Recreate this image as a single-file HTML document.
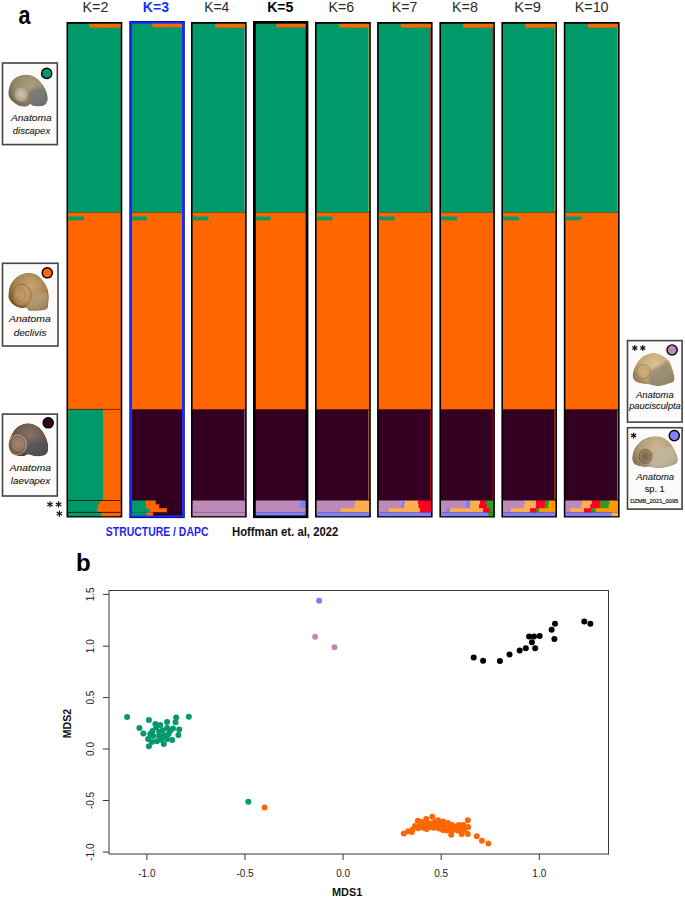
<!DOCTYPE html>
<html><head><meta charset="utf-8"><style>
html,body{margin:0;padding:0;background:#fff;}
body{width:685px;height:898px;overflow:hidden;}
svg{display:block;font-family:"Liberation Sans",sans-serif;}
</style></head><body>
<svg width="685" height="898" viewBox="0 0 685 898">
<rect width="685" height="898" fill="#fff"/>
<rect x="66.50" y="22.00" width="55.80" height="495.50" fill="#000"/>
<rect x="68.10" y="23.80" width="52.60" height="189.60" fill="#009a6a"/>
<rect x="89.20" y="23.80" width="31.50" height="3.80" fill="#ff6600"/>
<rect x="68.10" y="212.40" width="52.60" height="197.90" fill="#ff6600"/>
<rect x="68.10" y="216.60" width="15.90" height="3.70" fill="#009a6a"/>
<rect x="68.10" y="212.00" width="52.60" height="0.80" fill="#000" opacity="0.35"/>
<rect x="68.10" y="409.30" width="52.60" height="92.20" fill="#ff6600"/>
<rect x="68.10" y="409.30" width="34.90" height="92.20" fill="#009a6a"/>
<rect x="68.10" y="408.90" width="52.60" height="0.90" fill="#000" opacity="0.6"/>
<rect x="68.10" y="500.50" width="32.80" height="4.80" fill="#009a6a"/>
<rect x="99.90" y="500.50" width="20.80" height="4.80" fill="#ff6600"/>
<rect x="68.10" y="504.30" width="31.00" height="4.90" fill="#009a6a"/>
<rect x="98.10" y="504.30" width="22.60" height="4.90" fill="#ff6600"/>
<rect x="68.10" y="508.20" width="30.20" height="5.10" fill="#009a6a"/>
<rect x="97.30" y="508.20" width="23.40" height="5.10" fill="#ff6600"/>
<rect x="68.10" y="512.30" width="34.10" height="3.90" fill="#009a6a"/>
<rect x="101.20" y="512.30" width="19.50" height="3.90" fill="#ff6600"/>
<rect x="68.10" y="500.15" width="52.60" height="0.80" fill="#000" opacity="0.85"/>
<rect x="68.10" y="511.90" width="52.60" height="0.90" fill="#000" opacity="0.85"/>
<rect x="129.30" y="21.00" width="55.50" height="497.10" fill="#0a0a8c"/>
<rect x="130.20" y="21.90" width="53.70" height="495.30" fill="#1530ff"/>
<rect x="132.10" y="23.80" width="49.90" height="189.60" fill="#009a6a"/>
<rect x="152.40" y="23.80" width="29.60" height="3.50" fill="#ff6600"/>
<rect x="132.10" y="212.40" width="49.90" height="197.90" fill="#ff6600"/>
<rect x="132.10" y="216.60" width="14.70" height="3.70" fill="#009a6a"/>
<rect x="132.10" y="212.00" width="49.90" height="0.80" fill="#000" opacity="0.35"/>
<rect x="132.10" y="409.30" width="49.90" height="92.20" fill="#330022"/>
<rect x="132.10" y="500.50" width="14.90" height="4.80" fill="#009a6a"/>
<rect x="146.00" y="500.50" width="10.70" height="4.80" fill="#ff6600"/>
<rect x="155.70" y="500.50" width="26.30" height="4.80" fill="#330022"/>
<rect x="132.10" y="504.30" width="14.90" height="4.90" fill="#009a6a"/>
<rect x="146.00" y="504.30" width="14.20" height="4.90" fill="#ff6600"/>
<rect x="159.20" y="504.30" width="22.80" height="4.90" fill="#330022"/>
<rect x="132.10" y="508.20" width="18.20" height="5.10" fill="#009a6a"/>
<rect x="149.30" y="508.20" width="18.60" height="5.10" fill="#ff6600"/>
<rect x="166.90" y="508.20" width="15.10" height="5.10" fill="#330022"/>
<rect x="132.10" y="512.30" width="15.40" height="3.20" fill="#009a6a"/>
<rect x="146.50" y="512.30" width="7.60" height="3.20" fill="#ff6600"/>
<rect x="153.10" y="512.30" width="28.90" height="3.20" fill="#330022"/>
<rect x="132.10" y="511.90" width="49.90" height="0.80" fill="#000" opacity="0.3"/>
<rect x="191.00" y="22.00" width="55.70" height="495.50" fill="#000"/>
<rect x="192.60" y="23.80" width="52.50" height="189.60" fill="#009a6a"/>
<rect x="215.00" y="23.80" width="30.10" height="3.80" fill="#ff6600"/>
<rect x="192.60" y="212.40" width="52.50" height="197.90" fill="#ff6600"/>
<rect x="192.60" y="216.60" width="15.90" height="3.70" fill="#009a6a"/>
<rect x="192.60" y="212.00" width="52.50" height="0.80" fill="#000" opacity="0.35"/>
<rect x="192.60" y="409.30" width="52.50" height="92.20" fill="#330022"/>
<rect x="244.30" y="27.80" width="0.80" height="183.60" fill="#bd8bb7" opacity="0.8"/>
<rect x="244.30" y="410.30" width="0.80" height="89.20" fill="#bd8bb7" opacity="0.8"/>
<rect x="192.60" y="500.50" width="52.50" height="4.80" fill="#bd8bb7"/>
<rect x="192.60" y="504.30" width="52.50" height="4.90" fill="#bd8bb7"/>
<rect x="192.60" y="508.20" width="52.50" height="5.10" fill="#bd8bb7"/>
<rect x="192.60" y="512.30" width="52.50" height="3.90" fill="#bd8bb7"/>
<rect x="192.60" y="511.90" width="52.50" height="0.80" fill="#000" opacity="0.3"/>
<rect x="253.00" y="21.00" width="55.40" height="497.10" fill="#000"/>
<rect x="255.80" y="23.80" width="49.80" height="189.60" fill="#009a6a"/>
<rect x="276.40" y="23.80" width="29.20" height="3.50" fill="#ff6600"/>
<rect x="255.80" y="212.40" width="49.80" height="197.90" fill="#ff6600"/>
<rect x="255.80" y="216.60" width="14.70" height="3.70" fill="#009a6a"/>
<rect x="255.80" y="212.00" width="49.80" height="0.80" fill="#000" opacity="0.35"/>
<rect x="255.80" y="409.30" width="49.80" height="92.20" fill="#330022"/>
<rect x="255.80" y="500.50" width="45.30" height="4.80" fill="#bd8bb7"/>
<rect x="300.10" y="500.50" width="5.50" height="4.80" fill="#8080ff"/>
<rect x="255.80" y="504.30" width="45.30" height="4.90" fill="#bd8bb7"/>
<rect x="300.10" y="504.30" width="5.50" height="4.90" fill="#8080ff"/>
<rect x="255.80" y="508.20" width="49.80" height="5.10" fill="#bd8bb7"/>
<rect x="255.80" y="512.30" width="49.80" height="3.20" fill="#8080ff"/>
<rect x="255.80" y="511.90" width="49.80" height="0.80" fill="#000" opacity="0.3"/>
<rect x="315.00" y="22.00" width="55.80" height="495.50" fill="#000"/>
<rect x="316.60" y="23.80" width="52.60" height="189.60" fill="#009a6a"/>
<rect x="339.00" y="23.80" width="30.20" height="3.80" fill="#ff6600"/>
<rect x="316.60" y="212.40" width="52.60" height="197.90" fill="#ff6600"/>
<rect x="316.60" y="216.60" width="15.90" height="3.70" fill="#009a6a"/>
<rect x="316.60" y="212.00" width="52.60" height="0.80" fill="#000" opacity="0.35"/>
<rect x="316.60" y="409.30" width="52.60" height="92.20" fill="#330022"/>
<rect x="368.40" y="27.80" width="0.80" height="183.60" fill="#fdae50" opacity="0.8"/>
<rect x="368.40" y="410.30" width="0.80" height="89.20" fill="#fdae50" opacity="0.8"/>
<rect x="316.60" y="500.50" width="39.90" height="4.80" fill="#bd8bb7"/>
<rect x="355.50" y="500.50" width="13.70" height="4.80" fill="#fdae50"/>
<rect x="316.60" y="504.30" width="38.90" height="4.90" fill="#bd8bb7"/>
<rect x="354.50" y="504.30" width="14.70" height="4.90" fill="#fdae50"/>
<rect x="316.60" y="508.20" width="24.90" height="5.10" fill="#bd8bb7"/>
<rect x="340.50" y="508.20" width="28.70" height="5.10" fill="#fdae50"/>
<rect x="316.60" y="512.30" width="52.60" height="3.90" fill="#8080ff"/>
<rect x="316.60" y="511.90" width="52.60" height="0.80" fill="#000" opacity="0.3"/>
<rect x="377.10" y="22.00" width="55.50" height="495.50" fill="#000"/>
<rect x="378.70" y="23.80" width="52.30" height="189.60" fill="#009a6a"/>
<rect x="400.80" y="23.80" width="30.20" height="3.80" fill="#ff6600"/>
<rect x="378.70" y="212.40" width="52.30" height="197.90" fill="#ff6600"/>
<rect x="378.70" y="216.60" width="15.90" height="3.70" fill="#009a6a"/>
<rect x="378.70" y="212.00" width="52.30" height="0.80" fill="#000" opacity="0.35"/>
<rect x="378.70" y="409.30" width="52.30" height="92.20" fill="#330022"/>
<rect x="430.20" y="27.80" width="0.80" height="183.60" fill="#ff0025" opacity="0.8"/>
<rect x="430.20" y="410.30" width="0.80" height="89.20" fill="#ff0025" opacity="0.8"/>
<rect x="378.70" y="500.50" width="24.50" height="4.80" fill="#bd8bb7"/>
<rect x="402.20" y="500.50" width="3.50" height="4.80" fill="#8080ff"/>
<rect x="404.70" y="500.50" width="14.30" height="4.80" fill="#fdae50"/>
<rect x="418.00" y="500.50" width="13.00" height="4.80" fill="#ff0025"/>
<rect x="378.70" y="504.30" width="23.80" height="4.90" fill="#bd8bb7"/>
<rect x="401.50" y="504.30" width="3.50" height="4.90" fill="#8080ff"/>
<rect x="404.00" y="504.30" width="15.50" height="4.90" fill="#fdae50"/>
<rect x="418.50" y="504.30" width="12.50" height="4.90" fill="#ff0025"/>
<rect x="378.70" y="508.20" width="10.90" height="5.10" fill="#bd8bb7"/>
<rect x="388.60" y="508.20" width="32.40" height="5.10" fill="#fdae50"/>
<rect x="420.00" y="508.20" width="11.00" height="5.10" fill="#ff0025"/>
<rect x="378.70" y="512.30" width="52.30" height="3.90" fill="#8080ff"/>
<rect x="378.70" y="511.90" width="52.30" height="0.80" fill="#000" opacity="0.3"/>
<rect x="439.40" y="22.00" width="55.50" height="495.50" fill="#000"/>
<rect x="441.00" y="23.80" width="52.30" height="189.60" fill="#009a6a"/>
<rect x="463.00" y="23.80" width="30.30" height="3.80" fill="#ff6600"/>
<rect x="441.00" y="212.40" width="52.30" height="197.90" fill="#ff6600"/>
<rect x="441.00" y="216.60" width="15.90" height="3.70" fill="#009a6a"/>
<rect x="441.00" y="212.00" width="52.30" height="0.80" fill="#000" opacity="0.35"/>
<rect x="441.00" y="409.30" width="52.30" height="92.20" fill="#330022"/>
<rect x="492.50" y="27.80" width="0.80" height="183.60" fill="#ff0025" opacity="0.8"/>
<rect x="492.50" y="410.30" width="0.80" height="89.20" fill="#ff0025" opacity="0.8"/>
<rect x="441.00" y="500.50" width="25.70" height="4.80" fill="#bd8bb7"/>
<rect x="465.70" y="500.50" width="5.30" height="4.80" fill="#8080ff"/>
<rect x="470.00" y="500.50" width="11.00" height="4.80" fill="#fdae50"/>
<rect x="480.00" y="500.50" width="6.90" height="4.80" fill="#ff0025"/>
<rect x="485.90" y="500.50" width="7.40" height="4.80" fill="#339a22"/>
<rect x="441.00" y="504.30" width="25.50" height="4.90" fill="#bd8bb7"/>
<rect x="465.50" y="504.30" width="5.50" height="4.90" fill="#8080ff"/>
<rect x="470.00" y="504.30" width="10.00" height="4.90" fill="#fdae50"/>
<rect x="479.00" y="504.30" width="9.00" height="4.90" fill="#ff0025"/>
<rect x="487.00" y="504.30" width="6.30" height="4.90" fill="#339a22"/>
<rect x="441.00" y="508.20" width="6.30" height="5.10" fill="#bd8bb7"/>
<rect x="446.30" y="508.20" width="4.60" height="5.10" fill="#8080ff"/>
<rect x="449.90" y="508.20" width="34.10" height="5.10" fill="#fdae50"/>
<rect x="483.00" y="508.20" width="8.20" height="5.10" fill="#ff0025"/>
<rect x="490.20" y="508.20" width="3.10" height="5.10" fill="#339a22"/>
<rect x="441.00" y="512.30" width="48.00" height="3.90" fill="#8080ff"/>
<rect x="488.00" y="512.30" width="5.30" height="3.90" fill="#339a22"/>
<rect x="441.00" y="511.90" width="52.30" height="0.80" fill="#000" opacity="0.3"/>
<rect x="501.40" y="22.00" width="55.60" height="495.50" fill="#000"/>
<rect x="503.00" y="23.80" width="52.40" height="189.60" fill="#009a6a"/>
<rect x="524.90" y="23.80" width="30.50" height="3.80" fill="#ff6600"/>
<rect x="503.00" y="212.40" width="52.40" height="197.90" fill="#ff6600"/>
<rect x="503.00" y="216.60" width="15.90" height="3.70" fill="#009a6a"/>
<rect x="503.00" y="212.00" width="52.40" height="0.80" fill="#000" opacity="0.35"/>
<rect x="503.00" y="409.30" width="52.40" height="92.20" fill="#330022"/>
<rect x="554.60" y="27.80" width="0.80" height="183.60" fill="#ff9900" opacity="0.8"/>
<rect x="554.60" y="410.30" width="0.80" height="89.20" fill="#ff9900" opacity="0.8"/>
<rect x="503.00" y="500.50" width="22.10" height="4.80" fill="#bd8bb7"/>
<rect x="524.10" y="500.50" width="1.70" height="4.80" fill="#8080ff"/>
<rect x="524.80" y="500.50" width="12.10" height="4.80" fill="#fdae50"/>
<rect x="535.90" y="500.50" width="10.20" height="4.80" fill="#ff0025"/>
<rect x="545.10" y="500.50" width="4.90" height="4.80" fill="#339a22"/>
<rect x="549.00" y="500.50" width="6.40" height="4.80" fill="#ff9900"/>
<rect x="503.00" y="504.30" width="21.60" height="4.90" fill="#bd8bb7"/>
<rect x="523.60" y="504.30" width="13.30" height="4.90" fill="#fdae50"/>
<rect x="535.90" y="504.30" width="9.70" height="4.90" fill="#ff0025"/>
<rect x="544.60" y="504.30" width="4.70" height="4.90" fill="#339a22"/>
<rect x="548.30" y="504.30" width="7.10" height="4.90" fill="#ff9900"/>
<rect x="503.00" y="508.20" width="8.80" height="5.10" fill="#bd8bb7"/>
<rect x="510.80" y="508.20" width="20.20" height="5.10" fill="#fdae50"/>
<rect x="530.00" y="508.20" width="7.40" height="5.10" fill="#ff0025"/>
<rect x="536.40" y="508.20" width="3.70" height="5.10" fill="#339a22"/>
<rect x="539.10" y="508.20" width="16.30" height="5.10" fill="#ff9900"/>
<rect x="503.00" y="512.30" width="52.40" height="3.90" fill="#8080ff"/>
<rect x="503.00" y="511.90" width="52.40" height="0.80" fill="#000" opacity="0.3"/>
<rect x="563.80" y="22.00" width="55.80" height="495.50" fill="#000"/>
<rect x="565.40" y="23.80" width="52.60" height="189.60" fill="#009a6a"/>
<rect x="587.70" y="23.80" width="30.30" height="3.80" fill="#ff6600"/>
<rect x="565.40" y="212.40" width="52.60" height="197.90" fill="#ff6600"/>
<rect x="565.40" y="216.60" width="15.90" height="3.70" fill="#009a6a"/>
<rect x="565.40" y="212.00" width="52.60" height="0.80" fill="#000" opacity="0.35"/>
<rect x="565.40" y="409.30" width="52.60" height="92.20" fill="#330022"/>
<rect x="617.20" y="27.80" width="0.80" height="183.60" fill="#ff9900" opacity="0.8"/>
<rect x="617.20" y="410.30" width="0.80" height="89.20" fill="#ff9900" opacity="0.8"/>
<rect x="565.40" y="500.50" width="17.90" height="4.80" fill="#bd8bb7"/>
<rect x="582.30" y="500.50" width="10.40" height="4.80" fill="#fdae50"/>
<rect x="591.70" y="500.50" width="9.70" height="4.80" fill="#ff0025"/>
<rect x="600.40" y="500.50" width="10.20" height="4.80" fill="#339a22"/>
<rect x="609.60" y="500.50" width="8.40" height="4.80" fill="#ff9900"/>
<rect x="565.40" y="504.30" width="17.10" height="4.90" fill="#bd8bb7"/>
<rect x="581.50" y="504.30" width="9.70" height="4.90" fill="#fdae50"/>
<rect x="590.20" y="504.30" width="10.50" height="4.90" fill="#ff0025"/>
<rect x="599.70" y="504.30" width="9.90" height="4.90" fill="#339a22"/>
<rect x="608.60" y="504.30" width="9.40" height="4.90" fill="#ff9900"/>
<rect x="565.40" y="508.20" width="5.90" height="5.10" fill="#bd8bb7"/>
<rect x="570.30" y="508.20" width="14.70" height="5.10" fill="#fdae50"/>
<rect x="584.00" y="508.20" width="8.20" height="5.10" fill="#ff0025"/>
<rect x="591.20" y="508.20" width="5.60" height="5.10" fill="#339a22"/>
<rect x="595.80" y="508.20" width="22.20" height="5.10" fill="#ff9900"/>
<rect x="565.40" y="512.30" width="47.30" height="3.90" fill="#8080ff"/>
<rect x="611.70" y="512.30" width="6.30" height="3.90" fill="#fdae50"/>
<rect x="565.40" y="511.90" width="52.60" height="0.80" fill="#000" opacity="0.3"/>
<text transform="translate(82.46,12.3) scale(1.0391,1)" font-size="13.8" font-weight="normal" font-style="normal" fill="#2a2a2a">K=2</text>
<text transform="translate(142.78,12.3) scale(1.0208,1)" font-size="13.8" font-weight="bold" font-style="normal" fill="#1530ff">K=3</text>
<text transform="translate(204.3,12.3) scale(0.9958,1)" font-size="13.8" font-weight="normal" font-style="normal" fill="#2a2a2a">K=4</text>
<text transform="translate(267.18,12.3) scale(1.0208,1)" font-size="13.8" font-weight="bold" font-style="normal" fill="#000">K=5</text>
<text transform="translate(328.47,12.3) scale(1.0261,1)" font-size="13.8" font-weight="normal" font-style="normal" fill="#2a2a2a">K=6</text>
<text transform="translate(391.78,12.3) scale(1.0217,1)" font-size="13.8" font-weight="normal" font-style="normal" fill="#2a2a2a">K=7</text>
<text transform="translate(451.96,12.3) scale(1.0391,1)" font-size="13.8" font-weight="normal" font-style="normal" fill="#2a2a2a">K=8</text>
<text transform="translate(514.33,12.3) scale(1.0696,1)" font-size="13.8" font-weight="normal" font-style="normal" fill="#2a2a2a">K=9</text>
<text transform="translate(574.66,12.3) scale(1.0419,1)" font-size="13.8" font-weight="normal" font-style="normal" fill="#2a2a2a">K=10</text>

<line x1="50.00" y1="501.20" x2="50.00" y2="507.60" stroke="#111" stroke-width="1.1"/><line x1="47.23" y1="502.80" x2="52.77" y2="506.00" stroke="#111" stroke-width="1.1"/><line x1="52.77" y1="502.80" x2="47.23" y2="506.00" stroke="#111" stroke-width="1.1"/><line x1="58.60" y1="501.20" x2="58.60" y2="507.60" stroke="#111" stroke-width="1.1"/><line x1="55.83" y1="502.80" x2="61.37" y2="506.00" stroke="#111" stroke-width="1.1"/><line x1="61.37" y1="502.80" x2="55.83" y2="506.00" stroke="#111" stroke-width="1.1"/><line x1="59.40" y1="510.50" x2="59.40" y2="516.90" stroke="#111" stroke-width="1.1"/><line x1="56.63" y1="512.10" x2="62.17" y2="515.30" stroke="#111" stroke-width="1.1"/><line x1="62.17" y1="512.10" x2="56.63" y2="515.30" stroke="#111" stroke-width="1.1"/>
<rect x="2.50" y="63.00" width="54.80" height="81.60" fill="#fcfbfa" stroke="#444" stroke-width="1.6"/><defs><clipPath id="ca"><path d="M8.30,91.90 C8.53,89.47 9.52,85.53 10.80,83.10 C12.08,80.67 13.57,78.75 16.00,77.30 C18.43,75.85 22.37,74.52 25.40,74.40 C28.43,74.28 31.52,75.15 34.20,76.60 C36.88,78.05 39.55,80.80 41.50,83.10 C43.45,85.40 44.87,87.97 45.90,90.40 C46.93,92.83 47.58,95.63 47.70,97.70 C47.82,99.77 47.38,101.45 46.60,102.80 C45.82,104.15 45.07,105.25 43.00,105.80 C40.93,106.35 36.33,106.35 34.20,106.10 C32.07,105.85 31.42,104.23 30.20,104.30 C28.98,104.37 28.67,106.20 26.90,106.50 C25.13,106.80 21.92,106.83 19.60,106.10 C17.28,105.37 14.70,103.50 13.00,102.10 C11.30,100.70 10.18,99.40 9.40,97.70 C8.62,96.00 8.07,94.33 8.30,91.90 Z"/></clipPath>
<radialGradient id="ga" gradientUnits="userSpaceOnUse" cx="30.0" cy="85.6" r="24.4"><stop offset="0" stop-color="#ada07e"/><stop offset="0.65" stop-color="#938667"/><stop offset="1" stop-color="#6a6250"/></radialGradient>
<filter id="fa" x="-30%" y="-30%" width="160%" height="160%"><feGaussianBlur stdDeviation="1.8"/></filter>
<radialGradient id="sa"><stop offset="0" stop-color="#d6ccb4"/><stop offset="1" stop-color="#d6ccb4" stop-opacity="0.35"/></radialGradient></defs>
<g clip-path="url(#ca)"><path d="M8.30,91.90 C8.53,89.47 9.52,85.53 10.80,83.10 C12.08,80.67 13.57,78.75 16.00,77.30 C18.43,75.85 22.37,74.52 25.40,74.40 C28.43,74.28 31.52,75.15 34.20,76.60 C36.88,78.05 39.55,80.80 41.50,83.10 C43.45,85.40 44.87,87.97 45.90,90.40 C46.93,92.83 47.58,95.63 47.70,97.70 C47.82,99.77 47.38,101.45 46.60,102.80 C45.82,104.15 45.07,105.25 43.00,105.80 C40.93,106.35 36.33,106.35 34.20,106.10 C32.07,105.85 31.42,104.23 30.20,104.30 C28.98,104.37 28.67,106.20 26.90,106.50 C25.13,106.80 21.92,106.83 19.60,106.10 C17.28,105.37 14.70,103.50 13.00,102.10 C11.30,100.70 10.18,99.40 9.40,97.70 C8.62,96.00 8.07,94.33 8.30,91.90 Z" fill="url(#ga)"/>
<path d="M29.50,91.50 C31.00,89.83 34.42,88.42 37.00,88.00 C39.58,87.58 43.00,87.50 45.00,89.00 C47.00,90.50 48.58,94.50 49.00,97.00 C49.42,99.50 48.50,102.25 47.50,104.00 C46.50,105.75 45.22,106.92 43.00,107.50 C40.78,108.08 36.45,107.83 34.20,107.50 C31.95,107.17 30.53,107.08 29.50,105.50 C28.47,103.92 28.00,100.33 28.00,98.00 C28.00,95.67 28.00,93.17 29.50,91.50 Z" fill="#6c717a" opacity="0.7" filter="url(#fa)"/>
<ellipse cx="21.1" cy="94.6" rx="6.6" ry="7.0" fill="url(#sa)"/>
<ellipse cx="21.1" cy="94.6" rx="6.6" ry="7.0" fill="none" stroke="#b8a078" stroke-width="0.9" opacity="0.7"/>
<ellipse cx="21.63" cy="94.25" rx="4.09" ry="4.34" fill="none" stroke="#b8a078" stroke-width="0.6" opacity="0.45"/>
<ellipse cx="21.94" cy="94.04" rx="1.98" ry="2.10" fill="none" stroke="#b8a078" stroke-width="0.5" opacity="0.4"/>
</g><circle cx="46.7" cy="73.4" r="5.1" fill="#009a6a" stroke="#000" stroke-width="1.4"/><text transform="translate(10.9,121.4) scale(1.0632,1)" font-size="9.6" font-weight="normal" font-style="italic" fill="#111" stroke="#111" stroke-width="0.08">Anatoma</text><text transform="translate(12.8,134.0) scale(0.9868,1)" font-size="9.6" font-weight="normal" font-style="italic" fill="#111" stroke="#111" stroke-width="0.08">discapex</text><rect x="2.50" y="263.30" width="55.50" height="82.70" fill="#fcfbfa" stroke="#444" stroke-width="1.6"/><defs><clipPath id="cb"><path d="M8.30,295.70 C8.42,293.27 8.82,288.53 10.10,285.50 C11.38,282.47 13.82,279.50 16.00,277.50 C18.18,275.50 21.02,274.30 23.20,273.50 C25.38,272.70 26.90,272.52 29.10,272.70 C31.30,272.88 34.08,273.32 36.40,274.60 C38.72,275.88 41.18,278.22 43.00,280.40 C44.82,282.58 46.33,285.27 47.30,287.70 C48.27,290.13 48.62,292.57 48.80,295.00 C48.98,297.43 48.88,299.87 48.40,302.30 C47.92,304.73 49.00,308.20 45.90,309.60 C42.80,311.00 32.97,311.00 29.80,310.70 C26.63,310.40 28.60,308.28 26.90,307.80 C25.20,307.32 21.92,308.35 19.60,307.80 C17.28,307.25 14.70,305.78 13.00,304.50 C11.30,303.22 10.18,301.57 9.40,300.10 C8.62,298.63 8.18,298.13 8.30,295.70 Z"/></clipPath>
<radialGradient id="gb" gradientUnits="userSpaceOnUse" cx="30.5" cy="286.0" r="25.1"><stop offset="0" stop-color="#c8a674"/><stop offset="0.65" stop-color="#a6824c"/><stop offset="1" stop-color="#74522a"/></radialGradient>
<filter id="fb" x="-30%" y="-30%" width="160%" height="160%"><feGaussianBlur stdDeviation="1.8"/></filter>
<radialGradient id="sb"><stop offset="0" stop-color="#c49c66"/><stop offset="1" stop-color="#c49c66" stop-opacity="0.35"/></radialGradient></defs>
<g clip-path="url(#cb)"><path d="M8.30,295.70 C8.42,293.27 8.82,288.53 10.10,285.50 C11.38,282.47 13.82,279.50 16.00,277.50 C18.18,275.50 21.02,274.30 23.20,273.50 C25.38,272.70 26.90,272.52 29.10,272.70 C31.30,272.88 34.08,273.32 36.40,274.60 C38.72,275.88 41.18,278.22 43.00,280.40 C44.82,282.58 46.33,285.27 47.30,287.70 C48.27,290.13 48.62,292.57 48.80,295.00 C48.98,297.43 48.88,299.87 48.40,302.30 C47.92,304.73 49.00,308.20 45.90,309.60 C42.80,311.00 32.97,311.00 29.80,310.70 C26.63,310.40 28.60,308.28 26.90,307.80 C25.20,307.32 21.92,308.35 19.60,307.80 C17.28,307.25 14.70,305.78 13.00,304.50 C11.30,303.22 10.18,301.57 9.40,300.10 C8.62,298.63 8.18,298.13 8.30,295.70 Z" fill="url(#gb)"/>
<path d="M31.00,294.00 C33.17,291.83 37.08,291.83 40.00,292.00 C42.92,292.17 47.10,293.28 48.50,295.00 C49.90,296.72 48.83,299.87 48.40,302.30 C47.97,304.73 49.00,308.20 45.90,309.60 C42.80,311.00 32.95,311.47 29.80,310.70 C26.65,309.93 26.80,307.78 27.00,305.00 C27.20,302.22 28.83,296.17 31.00,294.00 Z" fill="#b8a27c" opacity="0.7" filter="url(#fb)"/>
<ellipse cx="21.6" cy="295.3" rx="9.4" ry="11.0" fill="url(#sb)"/>
<ellipse cx="21.6" cy="295.3" rx="9.4" ry="11.0" fill="none" stroke="#8a5420" stroke-width="0.9" opacity="0.7"/>
<ellipse cx="18.78" cy="294.75" rx="5.83" ry="6.82" fill="none" stroke="#8a5420" stroke-width="0.6" opacity="0.45"/>
<ellipse cx="17.09" cy="294.42" rx="2.82" ry="3.30" fill="none" stroke="#8a5420" stroke-width="0.5" opacity="0.4"/>
</g><circle cx="47.3" cy="272.8" r="5.1" fill="#ff6600" stroke="#000" stroke-width="1.4"/><text transform="translate(9.0,322.4) scale(1.0868,1)" font-size="9.6" font-weight="normal" font-style="italic" fill="#111" stroke="#111" stroke-width="0.08">Anatoma</text><text transform="translate(13.8,335.9) scale(1.0355,1)" font-size="9.6" font-weight="normal" font-style="italic" fill="#111" stroke="#111" stroke-width="0.08">declivis</text><rect x="2.50" y="414.10" width="54.80" height="81.90" fill="#fcfbfa" stroke="#444" stroke-width="1.6"/><defs><clipPath id="cc"><path d="M8.60,445.00 C8.60,442.32 9.45,439.12 10.80,436.20 C12.15,433.28 14.27,429.62 16.70,427.50 C19.13,425.38 22.48,423.98 25.40,423.50 C28.32,423.02 31.52,423.57 34.20,424.60 C36.88,425.63 39.50,427.52 41.50,429.70 C43.50,431.88 45.10,435.15 46.20,437.70 C47.30,440.25 47.85,442.68 48.10,445.00 C48.35,447.32 48.32,449.90 47.70,451.60 C47.08,453.30 46.40,454.42 44.40,455.20 C42.40,455.98 38.37,456.42 35.70,456.30 C33.03,456.18 30.48,454.50 28.40,454.50 C26.32,454.50 25.27,456.12 23.20,456.30 C21.13,456.48 18.07,456.27 16.00,455.60 C13.93,454.93 12.03,454.07 10.80,452.30 C9.57,450.53 8.60,447.68 8.60,445.00 Z"/></clipPath>
<radialGradient id="gc" gradientUnits="userSpaceOnUse" cx="30.4" cy="435.0" r="24.5"><stop offset="0" stop-color="#857266"/><stop offset="0.65" stop-color="#66564e"/><stop offset="1" stop-color="#3c3634"/></radialGradient>
<filter id="fc" x="-30%" y="-30%" width="160%" height="160%"><feGaussianBlur stdDeviation="1.8"/></filter>
<radialGradient id="sc"><stop offset="0" stop-color="#a8846a"/><stop offset="1" stop-color="#a8846a" stop-opacity="0.35"/></radialGradient></defs>
<g clip-path="url(#cc)"><path d="M8.60,445.00 C8.60,442.32 9.45,439.12 10.80,436.20 C12.15,433.28 14.27,429.62 16.70,427.50 C19.13,425.38 22.48,423.98 25.40,423.50 C28.32,423.02 31.52,423.57 34.20,424.60 C36.88,425.63 39.50,427.52 41.50,429.70 C43.50,431.88 45.10,435.15 46.20,437.70 C47.30,440.25 47.85,442.68 48.10,445.00 C48.35,447.32 48.32,449.90 47.70,451.60 C47.08,453.30 46.40,454.42 44.40,455.20 C42.40,455.98 38.37,456.42 35.70,456.30 C33.03,456.18 30.48,454.50 28.40,454.50 C26.32,454.50 25.27,456.12 23.20,456.30 C21.13,456.48 18.07,456.27 16.00,455.60 C13.93,454.93 12.03,454.07 10.80,452.30 C9.57,450.53 8.60,447.68 8.60,445.00 Z" fill="url(#gc)"/>
<path d="M28.00,444.00 C29.60,441.58 34.83,440.33 38.00,440.00 C41.17,439.67 45.32,441.17 47.00,442.00 C48.68,442.83 47.98,443.40 48.10,445.00 C48.22,446.60 48.32,449.90 47.70,451.60 C47.08,453.30 46.40,454.42 44.40,455.20 C42.40,455.98 38.37,456.42 35.70,456.30 C33.03,456.18 29.68,456.55 28.40,454.50 C27.12,452.45 26.40,446.42 28.00,444.00 Z" fill="#50555b" opacity="0.7" filter="url(#fc)"/>
<ellipse cx="17.4" cy="444.8" rx="9.0" ry="10.0" fill="url(#sc)"/>
<ellipse cx="17.4" cy="444.8" rx="9.0" ry="10.0" fill="none" stroke="#d8c49a" stroke-width="0.9" opacity="0.7"/>
<ellipse cx="18.12" cy="444.30" rx="5.58" ry="6.20" fill="none" stroke="#d8c49a" stroke-width="0.6" opacity="0.45"/>
<ellipse cx="18.55" cy="444.00" rx="2.70" ry="3.00" fill="none" stroke="#d8c49a" stroke-width="0.5" opacity="0.4"/>
</g><circle cx="48.2" cy="422.8" r="5.1" fill="#330022" stroke="#000" stroke-width="1.4"/><text transform="translate(9.7,471.3) scale(1.0763,1)" font-size="9.6" font-weight="normal" font-style="italic" fill="#111" stroke="#111" stroke-width="0.08">Anatoma</text><text transform="translate(10.8,484.1) scale(1.0289,1)" font-size="9.6" font-weight="normal" font-style="italic" fill="#111" stroke="#111" stroke-width="0.08">laevapex</text>
<rect x="627.50" y="340.60" width="54.60" height="81.50" fill="#fcfbfa" stroke="#444" stroke-width="1.6"/><defs><clipPath id="cd"><path d="M632.60,376.10 C632.47,373.70 633.42,370.03 634.80,367.00 C636.18,363.97 638.23,360.18 640.90,357.90 C643.57,355.62 647.63,353.87 650.80,353.30 C653.97,352.73 657.00,353.37 659.90,354.50 C662.80,355.63 666.18,357.90 668.20,360.10 C670.22,362.30 670.98,364.90 672.00,367.70 C673.02,370.50 674.03,374.62 674.30,376.90 C674.57,379.18 674.62,380.27 673.60,381.40 C672.58,382.53 670.73,382.93 668.20,383.70 C665.67,384.47 661.43,385.88 658.40,386.00 C655.37,386.12 652.53,384.78 650.00,384.40 C647.47,384.02 645.60,384.20 643.20,383.70 C640.80,383.20 637.37,382.67 635.60,381.40 C633.83,380.13 632.73,378.50 632.60,376.10 Z"/></clipPath>
<radialGradient id="gd" gradientUnits="userSpaceOnUse" cx="655.5" cy="364.7" r="25.9"><stop offset="0" stop-color="#dcc498"/><stop offset="0.65" stop-color="#c0a474"/><stop offset="1" stop-color="#8c7450"/></radialGradient>
<filter id="fd" x="-30%" y="-30%" width="160%" height="160%"><feGaussianBlur stdDeviation="1.8"/></filter>
<radialGradient id="sd"><stop offset="0" stop-color="#d4b27c"/><stop offset="1" stop-color="#d4b27c" stop-opacity="0.35"/></radialGradient></defs>
<g clip-path="url(#cd)"><path d="M632.60,376.10 C632.47,373.70 633.42,370.03 634.80,367.00 C636.18,363.97 638.23,360.18 640.90,357.90 C643.57,355.62 647.63,353.87 650.80,353.30 C653.97,352.73 657.00,353.37 659.90,354.50 C662.80,355.63 666.18,357.90 668.20,360.10 C670.22,362.30 670.98,364.90 672.00,367.70 C673.02,370.50 674.03,374.62 674.30,376.90 C674.57,379.18 674.62,380.27 673.60,381.40 C672.58,382.53 670.73,382.93 668.20,383.70 C665.67,384.47 661.43,385.88 658.40,386.00 C655.37,386.12 652.53,384.78 650.00,384.40 C647.47,384.02 645.60,384.20 643.20,383.70 C640.80,383.20 637.37,382.67 635.60,381.40 C633.83,380.13 632.73,378.50 632.60,376.10 Z" fill="url(#gd)"/>
<path d="M650.00,372.00 C651.67,368.93 657.00,367.67 660.00,366.00 C663.00,364.33 665.83,361.00 668.00,362.00 C670.17,363.00 671.95,369.52 673.00,372.00 C674.05,374.48 674.20,375.33 674.30,376.90 C674.40,378.47 674.62,380.27 673.60,381.40 C672.58,382.53 670.73,382.93 668.20,383.70 C665.67,384.47 661.43,385.88 658.40,386.00 C655.37,386.12 651.40,386.73 650.00,384.40 C648.60,382.07 648.33,375.07 650.00,372.00 Z" fill="#858270" opacity="0.7" filter="url(#fd)"/>
<ellipse cx="643.5" cy="371.5" rx="6.5" ry="7.0" fill="url(#sd)"/>
<ellipse cx="643.5" cy="371.5" rx="6.5" ry="7.0" fill="none" stroke="#9a7440" stroke-width="0.9" opacity="0.7"/>
<ellipse cx="644.02" cy="371.15" rx="4.03" ry="4.34" fill="none" stroke="#9a7440" stroke-width="0.6" opacity="0.45"/>
<ellipse cx="644.33" cy="370.94" rx="1.95" ry="2.10" fill="none" stroke="#9a7440" stroke-width="0.5" opacity="0.4"/>
</g><circle cx="672.1" cy="350.0" r="5.1" fill="#bd8bb7" stroke="#000" stroke-width="1.4"/><line x1="634.80" y1="345.10" x2="634.80" y2="350.90" stroke="#111" stroke-width="1.25"/><line x1="632.29" y1="346.55" x2="637.31" y2="349.45" stroke="#111" stroke-width="1.25"/><line x1="637.31" y1="346.55" x2="632.29" y2="349.45" stroke="#111" stroke-width="1.25"/><line x1="642.80" y1="345.10" x2="642.80" y2="350.90" stroke="#111" stroke-width="1.25"/><line x1="640.29" y1="346.55" x2="645.31" y2="349.45" stroke="#111" stroke-width="1.25"/><line x1="645.31" y1="346.55" x2="640.29" y2="349.45" stroke="#111" stroke-width="1.25"/><text transform="translate(635.9,398.0) scale(1.1,1)" font-size="8.6" font-weight="normal" font-style="italic" fill="#111" stroke="#111" stroke-width="0.08">Anatoma</text><text transform="translate(629.2,409.0) scale(1.0809,1)" font-size="8.6" font-weight="normal" font-style="italic" fill="#111" stroke="#111" stroke-width="0.08">paucisculpta</text><rect x="627.50" y="427.70" width="54.60" height="81.40" fill="#fcfbfa" stroke="#444" stroke-width="1.6"/><defs><clipPath id="ce"><path d="M632.20,457.10 C632.45,454.70 633.22,450.78 634.80,448.00 C636.38,445.22 638.92,442.30 641.70,440.40 C644.48,438.50 648.08,437.12 651.50,436.60 C654.92,436.08 659.03,436.17 662.20,437.30 C665.37,438.43 668.35,441.12 670.50,443.40 C672.65,445.68 673.90,448.47 675.10,451.00 C676.30,453.53 677.45,456.58 677.70,458.60 C677.95,460.62 677.55,461.97 676.60,463.10 C675.65,464.23 674.78,464.57 672.00,465.40 C669.22,466.23 663.43,467.85 659.90,468.10 C656.37,468.35 653.33,467.10 650.80,466.90 C648.27,466.70 646.98,467.15 644.70,466.90 C642.42,466.65 639.00,466.15 637.10,465.40 C635.20,464.65 634.12,463.78 633.30,462.40 C632.48,461.02 631.95,459.50 632.20,457.10 Z"/></clipPath>
<radialGradient id="ge" gradientUnits="userSpaceOnUse" cx="657.0" cy="447.6" r="28.2"><stop offset="0" stop-color="#cdb890"/><stop offset="0.65" stop-color="#ad9a76"/><stop offset="1" stop-color="#7a6a54"/></radialGradient>
<filter id="fe" x="-30%" y="-30%" width="160%" height="160%"><feGaussianBlur stdDeviation="1.8"/></filter>
<radialGradient id="se"><stop offset="0" stop-color="#7e6646"/><stop offset="1" stop-color="#7e6646" stop-opacity="0.35"/></radialGradient></defs>
<g clip-path="url(#ce)"><path d="M632.20,457.10 C632.45,454.70 633.22,450.78 634.80,448.00 C636.38,445.22 638.92,442.30 641.70,440.40 C644.48,438.50 648.08,437.12 651.50,436.60 C654.92,436.08 659.03,436.17 662.20,437.30 C665.37,438.43 668.35,441.12 670.50,443.40 C672.65,445.68 673.90,448.47 675.10,451.00 C676.30,453.53 677.45,456.58 677.70,458.60 C677.95,460.62 677.55,461.97 676.60,463.10 C675.65,464.23 674.78,464.57 672.00,465.40 C669.22,466.23 663.43,467.85 659.90,468.10 C656.37,468.35 653.33,467.10 650.80,466.90 C648.27,466.70 646.98,467.15 644.70,466.90 C642.42,466.65 639.00,466.15 637.10,465.40 C635.20,464.65 634.12,463.78 633.30,462.40 C632.48,461.02 631.95,459.50 632.20,457.10 Z" fill="url(#ge)"/>
<path d="M651.00,457.00 C652.87,454.18 658.50,451.67 662.00,450.00 C665.50,448.33 669.38,445.57 672.00,447.00 C674.62,448.43 676.93,455.92 677.70,458.60 C678.47,461.28 677.55,461.97 676.60,463.10 C675.65,464.23 674.78,464.57 672.00,465.40 C669.22,466.23 663.43,467.85 659.90,468.10 C656.37,468.35 652.28,468.75 650.80,466.90 C649.32,465.05 649.13,459.82 651.00,457.00 Z" fill="#c4bcaa" opacity="0.7" filter="url(#fe)"/>
<ellipse cx="645.5" cy="456.3" rx="6.5" ry="7.2" fill="url(#se)"/>
<ellipse cx="645.5" cy="456.3" rx="6.5" ry="7.2" fill="none" stroke="#5a4830" stroke-width="0.9" opacity="0.7"/>
<ellipse cx="646.02" cy="455.94" rx="4.03" ry="4.46" fill="none" stroke="#5a4830" stroke-width="0.6" opacity="0.45"/>
<ellipse cx="646.33" cy="455.72" rx="1.95" ry="2.16" fill="none" stroke="#5a4830" stroke-width="0.5" opacity="0.4"/>
</g><circle cx="674.3" cy="435.6" r="5.1" fill="#8080ff" stroke="#000" stroke-width="1.4"/><line x1="633.60" y1="432.70" x2="633.60" y2="438.50" stroke="#111" stroke-width="1.25"/><line x1="631.09" y1="434.15" x2="636.11" y2="437.05" stroke="#111" stroke-width="1.25"/><line x1="636.11" y1="434.15" x2="631.09" y2="437.05" stroke="#111" stroke-width="1.25"/><text transform="translate(636.3,479.9) scale(1.1,1)" font-size="8.6" font-weight="normal" font-style="italic" fill="#111" stroke="#111" stroke-width="0.08">Anatoma</text><text transform="translate(644.65,491.7) scale(1.05,1)" font-size="8.8" font-weight="normal" font-style="normal" fill="#111" stroke="#111" stroke-width="0.12">sp. 1</text><text transform="translate(630.14,502.7) scale(1.0636,1)" font-size="5.4" font-weight="normal" font-style="normal" fill="#111" stroke="#111" stroke-width="0.15">DZMB_2021_0095</text>
<rect x="109.0" y="590.5" width="499.5" height="263.5" fill="none" stroke="#383838" stroke-width="1.0"/><line x1="146.90" y1="854" x2="146.90" y2="860" stroke="#383838" stroke-width="1.0"/><text x="146.90" y="877" text-anchor="middle" font-size="10" fill="#222">-1.0</text><line x1="245.00" y1="854" x2="245.00" y2="860" stroke="#383838" stroke-width="1.0"/><text x="245.00" y="877" text-anchor="middle" font-size="10" fill="#222">-0.5</text><line x1="343.10" y1="854" x2="343.10" y2="860" stroke="#383838" stroke-width="1.0"/><text x="343.10" y="877" text-anchor="middle" font-size="10" fill="#222">0.0</text><line x1="441.20" y1="854" x2="441.20" y2="860" stroke="#383838" stroke-width="1.0"/><text x="441.20" y="877" text-anchor="middle" font-size="10" fill="#222">0.5</text><line x1="539.30" y1="854" x2="539.30" y2="860" stroke="#383838" stroke-width="1.0"/><text x="539.30" y="877" text-anchor="middle" font-size="10" fill="#222">1.0</text><line x1="102.8" y1="852.10" x2="109.0" y2="852.10" stroke="#383838" stroke-width="1.0"/><text transform="translate(94.2,852.10) rotate(-90)" x="0" y="0" text-anchor="middle" font-size="10" fill="#222">-1.0</text><line x1="102.8" y1="800.50" x2="109.0" y2="800.50" stroke="#383838" stroke-width="1.0"/><text transform="translate(94.2,800.50) rotate(-90)" x="0" y="0" text-anchor="middle" font-size="10" fill="#222">-0.5</text><line x1="102.8" y1="749.00" x2="109.0" y2="749.00" stroke="#383838" stroke-width="1.0"/><text transform="translate(94.2,749.00) rotate(-90)" x="0" y="0" text-anchor="middle" font-size="10" fill="#222">0.0</text><line x1="102.8" y1="697.60" x2="109.0" y2="697.60" stroke="#383838" stroke-width="1.0"/><text transform="translate(94.2,697.60) rotate(-90)" x="0" y="0" text-anchor="middle" font-size="10" fill="#222">0.5</text><line x1="102.8" y1="646.20" x2="109.0" y2="646.20" stroke="#383838" stroke-width="1.0"/><text transform="translate(94.2,646.20) rotate(-90)" x="0" y="0" text-anchor="middle" font-size="10" fill="#222">1.0</text><line x1="102.8" y1="594.40" x2="109.0" y2="594.40" stroke="#383838" stroke-width="1.0"/><text transform="translate(94.2,594.40) rotate(-90)" x="0" y="0" text-anchor="middle" font-size="10" fill="#222">1.5</text><text transform="translate(331.93,896.3) scale(1.0704,1)" font-size="10.2" font-weight="bold" font-style="normal" fill="#111">MDS1</text><text transform="translate(70.9,723.6) rotate(-90)" x="0" y="0" text-anchor="middle" font-size="10.6" font-weight="bold" fill="#111">MDS2</text>
<circle cx="127.1" cy="717.1" r="3.0" fill="#03996b"/><circle cx="188.8" cy="716.7" r="3.0" fill="#03996b"/><circle cx="148.9" cy="720" r="3.0" fill="#03996b"/><circle cx="139.4" cy="728.1" r="3.0" fill="#03996b"/><circle cx="143.4" cy="733.5" r="3.0" fill="#03996b"/><circle cx="155.4" cy="724" r="3.0" fill="#03996b"/><circle cx="160.2" cy="725.1" r="3.0" fill="#03996b"/><circle cx="167.1" cy="721.9" r="3.0" fill="#03996b"/><circle cx="176.2" cy="717.5" r="3.0" fill="#03996b"/><circle cx="175.5" cy="722.2" r="3.0" fill="#03996b"/><circle cx="179.2" cy="729.5" r="3.0" fill="#03996b"/><circle cx="178.4" cy="735" r="3.0" fill="#03996b"/><circle cx="173" cy="728.4" r="3.0" fill="#03996b"/><circle cx="172.2" cy="740.1" r="3.0" fill="#03996b"/><circle cx="163.8" cy="744.1" r="3.0" fill="#03996b"/><circle cx="148.9" cy="746.3" r="3.0" fill="#03996b"/><circle cx="148.1" cy="739" r="3.0" fill="#03996b"/><circle cx="156.9" cy="741.2" r="3.0" fill="#03996b"/><circle cx="152.5" cy="731" r="3.0" fill="#03996b"/><circle cx="156.2" cy="727.3" r="3.0" fill="#03996b"/><circle cx="162.7" cy="730.2" r="3.0" fill="#03996b"/><circle cx="167.1" cy="728.1" r="3.0" fill="#03996b"/><circle cx="168.6" cy="733.9" r="3.0" fill="#03996b"/><circle cx="164.2" cy="735.4" r="3.0" fill="#03996b"/><circle cx="159.1" cy="736.1" r="3.0" fill="#03996b"/><circle cx="153.2" cy="736.1" r="3.0" fill="#03996b"/><circle cx="150.3" cy="733.9" r="3.0" fill="#03996b"/><circle cx="167.1" cy="739" r="3.0" fill="#03996b"/><circle cx="161.3" cy="739.7" r="3.0" fill="#03996b"/><circle cx="151.8" cy="741.9" r="3.0" fill="#03996b"/><circle cx="170" cy="731" r="3.0" fill="#03996b"/><circle cx="159.1" cy="731.7" r="3.0" fill="#03996b"/><circle cx="248.3" cy="801.8" r="3.0" fill="#03996b"/><circle cx="403.8" cy="833.4" r="3.0" fill="#ff6600"/><circle cx="408.1" cy="831.2" r="3.0" fill="#ff6600"/><circle cx="411.8" cy="831.9" r="3.0" fill="#ff6600"/><circle cx="412.6" cy="829.5" r="3.0" fill="#ff6600"/><circle cx="417.9" cy="820.8" r="3.0" fill="#ff6600"/><circle cx="418.3" cy="828.2" r="3.0" fill="#ff6600"/><circle cx="422.3" cy="824.3" r="3.0" fill="#ff6600"/><circle cx="426.2" cy="819" r="3.0" fill="#ff6600"/><circle cx="426.6" cy="829.1" r="3.0" fill="#ff6600"/><circle cx="432.3" cy="816.8" r="3.0" fill="#ff6600"/><circle cx="431" cy="823.4" r="3.0" fill="#ff6600"/><circle cx="433.6" cy="827.8" r="3.0" fill="#ff6600"/><circle cx="438" cy="820.3" r="3.0" fill="#ff6600"/><circle cx="438.9" cy="828.6" r="3.0" fill="#ff6600"/><circle cx="436.3" cy="825.1" r="3.0" fill="#ff6600"/><circle cx="443.3" cy="821.6" r="3.0" fill="#ff6600"/><circle cx="441.5" cy="826" r="3.0" fill="#ff6600"/><circle cx="446.8" cy="825.1" r="3.0" fill="#ff6600"/><circle cx="446.8" cy="830.4" r="3.0" fill="#ff6600"/><circle cx="451.2" cy="834.8" r="3.0" fill="#ff6600"/><circle cx="452" cy="825.1" r="3.0" fill="#ff6600"/><circle cx="453.8" cy="828.6" r="3.0" fill="#ff6600"/><circle cx="457.3" cy="826" r="3.0" fill="#ff6600"/><circle cx="457.7" cy="830.4" r="3.0" fill="#ff6600"/><circle cx="461.7" cy="833.9" r="3.0" fill="#ff6600"/><circle cx="463.4" cy="825.1" r="3.0" fill="#ff6600"/><circle cx="464.3" cy="829.5" r="3.0" fill="#ff6600"/><circle cx="467.8" cy="820.3" r="3.0" fill="#ff6600"/><circle cx="468.2" cy="826.9" r="3.0" fill="#ff6600"/><circle cx="467.8" cy="833.9" r="3.0" fill="#ff6600"/><circle cx="476.8" cy="836.3" r="3.0" fill="#ff6600"/><circle cx="481.9" cy="840.7" r="3.0" fill="#ff6600"/><circle cx="488.4" cy="843.6" r="3.0" fill="#ff6600"/><circle cx="264.6" cy="807.4" r="3.0" fill="#ff6600"/><circle cx="422" cy="822" r="3.0" fill="#ff6600"/><circle cx="428" cy="824" r="3.0" fill="#ff6600"/><circle cx="435" cy="822" r="3.0" fill="#ff6600"/><circle cx="441" cy="823" r="3.0" fill="#ff6600"/><circle cx="445" cy="828" r="3.0" fill="#ff6600"/><circle cx="449" cy="827" r="3.0" fill="#ff6600"/><circle cx="455" cy="828" r="3.0" fill="#ff6600"/><circle cx="460" cy="829" r="3.0" fill="#ff6600"/><circle cx="420" cy="826" r="3.0" fill="#ff6600"/><circle cx="430" cy="827" r="3.0" fill="#ff6600"/><circle cx="424" cy="828" r="3.0" fill="#ff6600"/><circle cx="448" cy="823" r="3.0" fill="#ff6600"/><circle cx="459" cy="825" r="3.0" fill="#ff6600"/><circle cx="462" cy="831" r="3.0" fill="#ff6600"/><circle cx="415" cy="826" r="3.0" fill="#ff6600"/><circle cx="452" cy="831" r="3.0" fill="#ff6600"/><circle cx="443" cy="830" r="3.0" fill="#ff6600"/><circle cx="473.7" cy="657.4" r="3.0" fill="#000"/><circle cx="483.1" cy="660.7" r="3.0" fill="#000"/><circle cx="499.9" cy="661.1" r="3.0" fill="#000"/><circle cx="509.5" cy="654.6" r="3.0" fill="#000"/><circle cx="519.7" cy="650.5" r="3.0" fill="#000"/><circle cx="525.8" cy="648.2" r="3.0" fill="#000"/><circle cx="535.2" cy="648.2" r="3.0" fill="#000"/><circle cx="531.9" cy="642.3" r="3.0" fill="#000"/><circle cx="529.1" cy="636.6" r="3.0" fill="#000"/><circle cx="534" cy="636.6" r="3.0" fill="#000"/><circle cx="539.7" cy="636" r="3.0" fill="#000"/><circle cx="551.6" cy="629.8" r="3.0" fill="#000"/><circle cx="555" cy="623.7" r="3.0" fill="#000"/><circle cx="554.4" cy="639" r="3.0" fill="#000"/><circle cx="584.3" cy="621.6" r="3.0" fill="#000"/><circle cx="590.4" cy="623.7" r="3.0" fill="#000"/><circle cx="315.1" cy="636.8" r="3.0" fill="#c08ab8"/><circle cx="334.5" cy="647.3" r="3.0" fill="#c08ab8"/><circle cx="319.1" cy="600.8" r="3.0" fill="#7b7bff"/>
<text transform="translate(18.5,24.0) scale(0.86,1)" font-size="25" font-weight="bold" fill="#000">a</text><text x="76.0" y="570.5" font-size="24" font-weight="bold" fill="#000">b</text><text transform="translate(105.86,535.7) scale(0.8417,1)" font-size="12.4" font-weight="bold" font-style="normal" fill="#2323f5">STRUCTURE / DAPC</text><text transform="translate(231.98,536.4) scale(0.9219,1)" font-size="12.3" font-weight="bold" font-style="normal" fill="#111">Hoffman et. al, 2022</text>
</svg>
</body></html>
